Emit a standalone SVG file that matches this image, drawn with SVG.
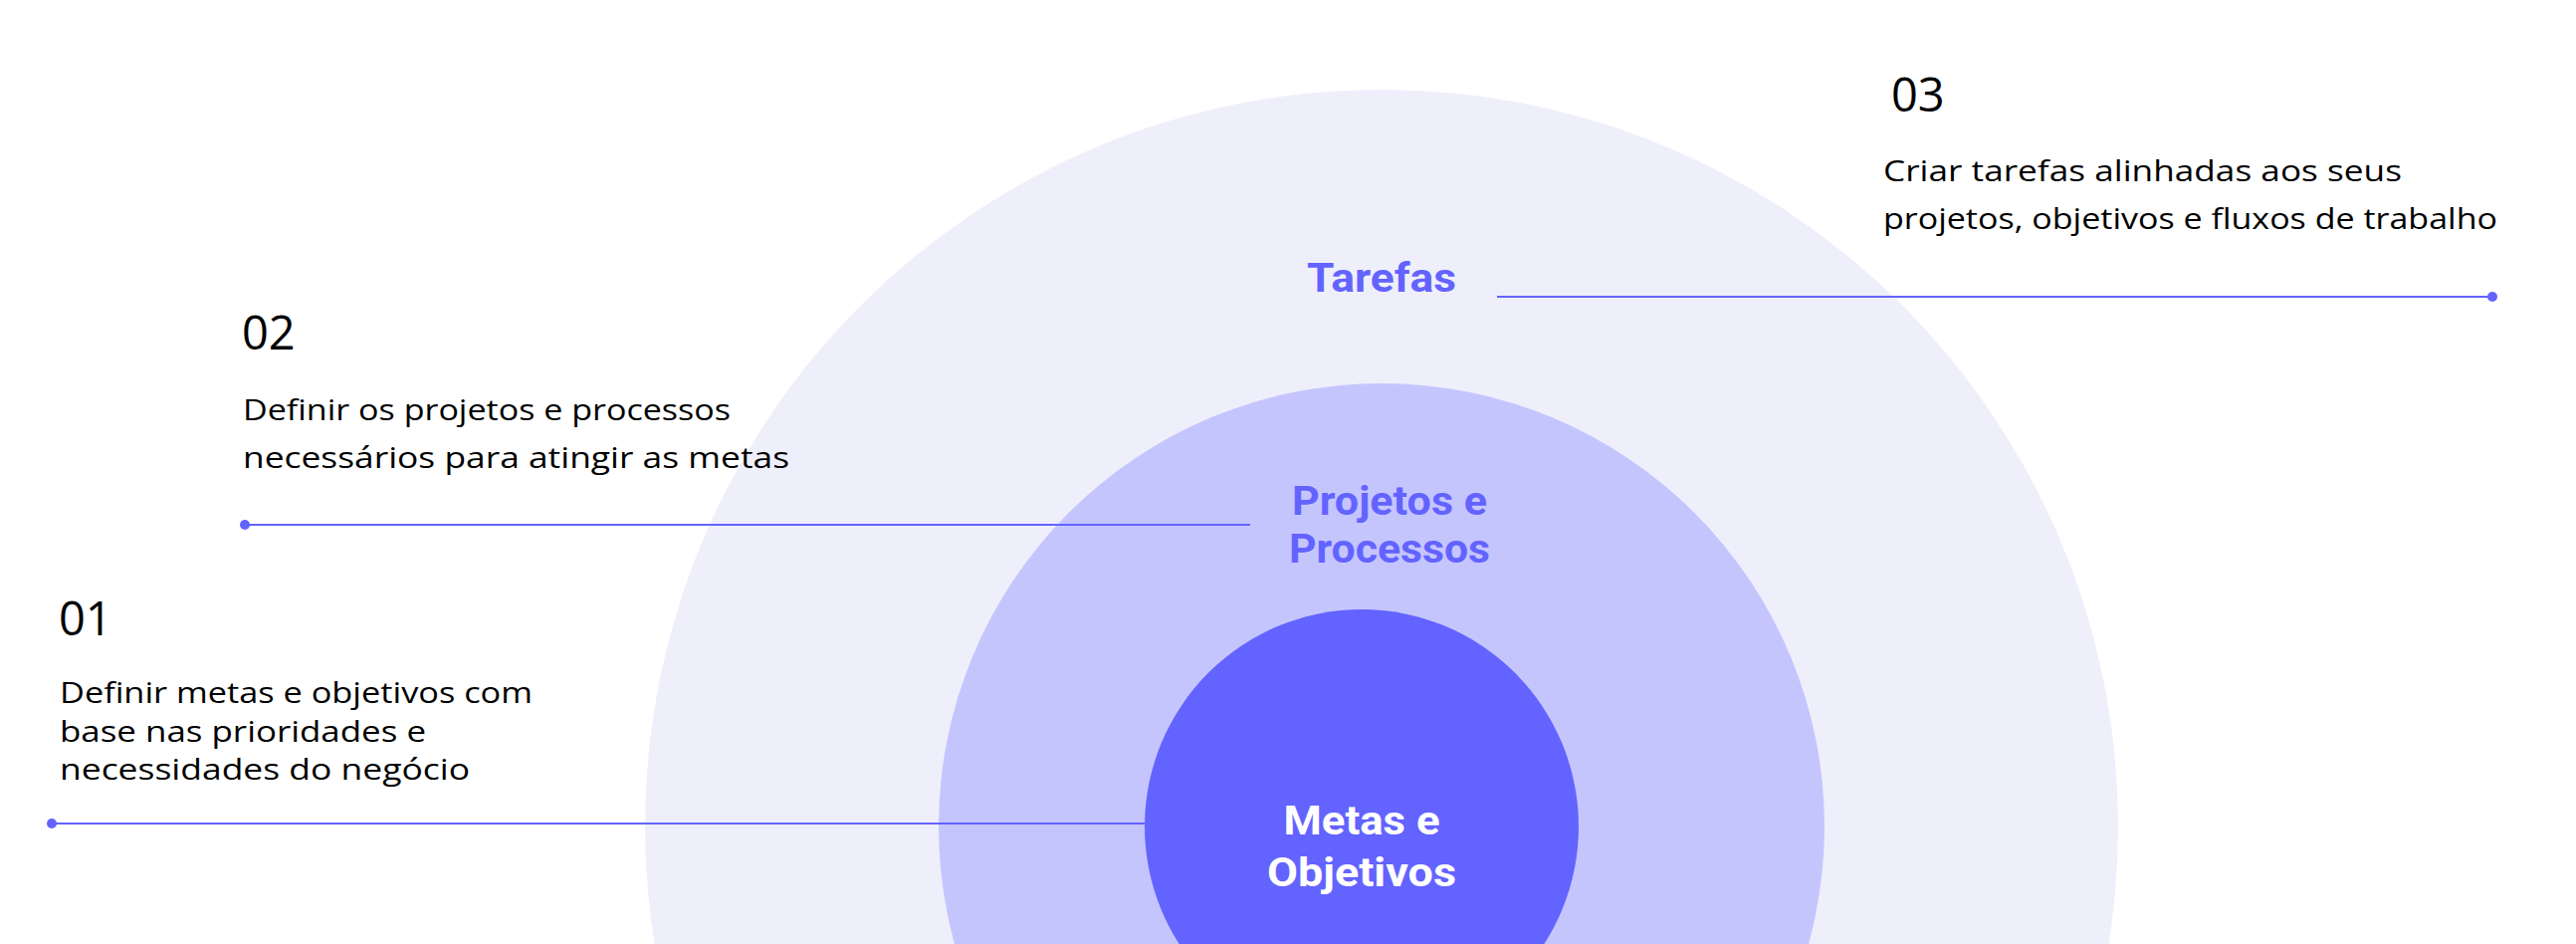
<svg xmlns="http://www.w3.org/2000/svg" width="2588" height="948" viewBox="0 0 2588 948">
  <style>
    .body { font-family: "Open Sans", "Liberation Sans", sans-serif; font-size: 30px; fill: #000000; }
    .num { font-family: "Open Sans", "Liberation Sans", sans-serif; font-size: 47px; fill: #000000; }
    .lbl { font-family: Roboto, "Liberation Sans", sans-serif; font-size: 40px; font-weight: 700; text-anchor: middle; }
    .lbl-accent { fill: #6363FF; }
    .lbl-white { fill: #FFFFFF; }
    .conn { stroke: #6363FF; stroke-width: 2; fill: none; }
    .dot { fill: #6363FF; }
  </style>
  <rect x="0" y="0" width="2588" height="948" fill="#FFFFFF"/>

  <g id="node-tarefas">
    <circle cx="1388" cy="830" r="740" fill="#EFEFFC"/>
    <text class="lbl lbl-accent" x="1388" y="293" textLength="150" lengthAdjust="spacingAndGlyphs">Tarefas</text>
  </g>

  <g id="node-projetos">
    <circle cx="1388" cy="830" r="445" fill="#C5C5FE"/>
    <text class="lbl lbl-accent" x="1396" y="517" textLength="196" lengthAdjust="spacingAndGlyphs">Projetos e</text>
    <text class="lbl lbl-accent" x="1396" y="565" textLength="202" lengthAdjust="spacingAndGlyphs">Processos</text>
  </g>

  <g id="node-metas">
    <circle cx="1368" cy="830" r="218" fill="#6363FF"/>
    <text class="lbl lbl-white" x="1368" y="838" textLength="157" lengthAdjust="spacingAndGlyphs">Metas e</text>
    <text class="lbl lbl-white" x="1368" y="890" textLength="190" lengthAdjust="spacingAndGlyphs">Objetivos</text>
  </g>

  <g id="connectors">
    <line class="conn" x1="1504" y1="298" x2="2504" y2="298"/>
    <circle class="dot" cx="2504" cy="298" r="5"/>
    <line class="conn" x1="246" y1="527" x2="1256" y2="527"/>
    <circle class="dot" cx="246" cy="527" r="5"/>
    <line class="conn" x1="52" y1="827" x2="1150" y2="827"/>
    <circle class="dot" cx="52" cy="827" r="5"/>
  </g>

  <g id="step-03">
    <text class="num" x="1900" y="112">03</text>
    <text class="body" x="1892" y="182" textLength="521" lengthAdjust="spacingAndGlyphs">Criar tarefas alinhadas aos seus</text>
    <text class="body" x="1892" y="230" textLength="617" lengthAdjust="spacingAndGlyphs">projetos, objetivos e fluxos de trabalho</text>
  </g>

  <g id="step-02">
    <text class="num" x="243" y="351">02</text>
    <text class="body" x="244" y="422" textLength="490" lengthAdjust="spacingAndGlyphs">Definir os projetos e processos</text>
    <text class="body" x="244" y="470" textLength="549" lengthAdjust="spacingAndGlyphs">necessários para atingir as metas</text>
  </g>

  <g id="step-01">
    <text class="num" x="59" y="638">01</text>
    <text class="body" x="60" y="706" textLength="475" lengthAdjust="spacingAndGlyphs">Definir metas e objetivos com</text>
    <text class="body" x="60" y="745" textLength="368" lengthAdjust="spacingAndGlyphs">base nas prioridades e</text>
    <text class="body" x="60" y="783" textLength="412" lengthAdjust="spacingAndGlyphs">necessidades do negócio</text>
  </g>
</svg>
